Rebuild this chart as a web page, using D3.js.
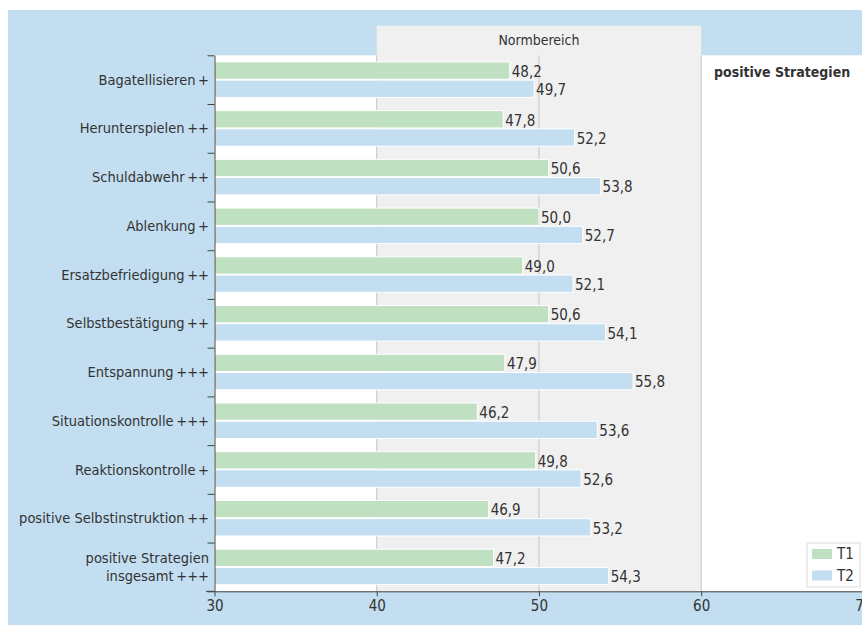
<!DOCTYPE html>
<html>
<head>
<meta charset="utf-8">
<script src="https://cdn.jsdelivr.net/npm/d3@7"></script>
<style>
  body { margin: 0; background: #fff; }
  text { font-family: "Liberation Sans Narrow", "DejaVu Sans Condensed", sans-serif; fill: #333; }
  .axis path, .axis line { stroke: #444; }
  .axis text { font-size: 15px; fill: #333; font-family: "Liberation Sans Narrow", "DejaVu Sans Condensed", sans-serif; }
</style>
</head>
<body>
<div id="chart"></div>
<script>
// data
var categories = [
    "Bagatellisieren\u2009+",
    "Herunterspielen\u2009++",
    "Schuldabwehr\u2009++",
    "Ablenkung\u2009+",
    "Ersatzbefriedigung\u2009++",
    "Selbstbestätigung\u2009++",
    "Entspannung\u2009+++",
    "Situationskontrolle\u2009+++",
    "Reaktionskontrolle\u2009+",
    "positive Selbstinstruktion\u2009++",
    "positive Strategien|insgesamt\u2009+++"
];
var t1 = [48.2, 47.8, 50.6, 50.0, 49.0, 50.6, 47.9, 46.2, 49.8, 46.9, 47.2];
var t2 = [49.7, 52.2, 53.8, 52.7, 52.1, 54.1, 55.8, 53.6, 52.6, 53.2, 54.3];
var seriesNames = ["T1", "T2"];
var xTicks = [30, 40, 50, 60, 70];
var normRange = [40, 60];
var gridValues = [40, 50, 60];

var width = 862;
var height = 625;
var plotTop = 55.3;
var plotBottom = 591.3;
var plotLeft = 214.5;

var svg = d3.select("#chart")
    .append("svg")
    .attr("width", width)
    .attr("height", height);

var color = d3.scaleOrdinal(seriesNames, ["#bfe0c1", "#c2def0"]);

// scales
var x = d3.scaleLinear()
    .domain([30, 70])
    .range([plotLeft, 863.4]);

var y0 = d3.scaleBand()
    .domain(categories)
    .range([plotTop, plotBottom]);

var y1 = d3.scaleBand()
    .domain(seriesNames)
    .range([6.6, y0.bandwidth() - 6.6])
    .paddingInner(0.05);

var yIdx = d3.scaleLinear()
    .domain([0, categories.length])
    .range([plotTop, plotBottom]);

// background
svg.append("rect")
    .attr("x", 8)
    .attr("y", 10)
    .attr("width", width - 8)
    .attr("height", height - 10)
    .style("fill", "#c2def0");

// plot area
svg.append("rect")
    .attr("x", plotLeft)
    .attr("y", plotTop)
    .attr("width", width - plotLeft)
    .attr("height", plotBottom - plotTop)
    .style("fill", "#fff");

// Normbereich band
svg.append("rect")
    .attr("x", x(normRange[0]))
    .attr("y", 25.7)
    .attr("width", x(normRange[1]) - x(normRange[0]))
    .attr("height", plotBottom - 25.7)
    .style("fill", "#f0f0f0");

svg.append("text")
    .attr("x", x(50))
    .attr("y", 45)
    .attr("text-anchor", "middle")
    .style("font-size", "14px")
    .text("Normbereich");

// grid
svg.append("g")
    .selectAll("line")
    .data(gridValues)
    .join("line")
    .attr("x1", d => x(d))
    .attr("x2", d => x(d))
    .attr("y1", plotTop)
    .attr("y2", plotBottom)
    .style("stroke", "#c4c4c4")
    .style("stroke-width", 1);

// bars
var rows = categories.map(function (c, i) {
    return { cat: c, values: [{ key: "T1", v: t1[i] }, { key: "T2", v: t2[i] }] };
});

var group = svg.append("g")
    .selectAll("g")
    .data(rows)
    .join("g")
    .attr("transform", d => "translate(0," + y0(d.cat) + ")");

group.selectAll("rect")
    .data(d => d.values)
    .join("rect")
    .attr("x", x(30))
    .attr("y", d => y1(d.key))
    .attr("width", d => x(d.v) - x(30))
    .attr("height", y1.bandwidth())
    .style("fill", d => color(d.key))
    .style("stroke", "#fff")
    .style("stroke-width", 1);

group.selectAll("text.val")
    .data(d => d.values)
    .join("text")
    .attr("class", "val")
    .attr("x", d => x(d.v) + 2)
    .attr("y", d => y1(d.key) + y1.bandwidth() / 2 + 1)
    .attr("dy", "0.35em")
    .style("font-size", "15px")
    .text(d => d.v.toFixed(1).replace(".", ","));

// category labels
var labels = svg.append("g")
    .selectAll("text")
    .data(categories)
    .join("text")
    .attr("x", 209)
    .attr("y", d => y0(d) + y0.bandwidth() / 2)
    .attr("text-anchor", "end")
    .style("font-size", "14.5px");

labels.each(function (d) {
    var parts = d.split("|");
    var t = d3.select(this);
    parts.forEach(function (p, i) {
        t.append("tspan")
            .attr("x", 209)
            .attr("dy", parts.length === 1 ? "0.35em" : (i === 0 ? "-0.3em" : "1.3em"))
            .text(p);
    });
});

// left axis (ticks at band boundaries)
svg.append("g")
    .attr("class", "axis")
    .attr("transform", "translate(" + plotLeft + ",0)")
    .call(d3.axisLeft(yIdx).tickValues(d3.range(categories.length + 1)).tickFormat("").tickSize(7).tickSizeOuter(0));

// bottom axis
var xAxis = svg.append("g")
    .attr("class", "axis")
    .attr("transform", "translate(0," + plotBottom + ")")
    .call(d3.axisBottom(x).tickValues(xTicks).tickSize(5).tickSizeOuter(0).tickPadding(4));

xAxis.append("line")
    .attr("x1", 206)
    .attr("x2", plotLeft)
    .style("stroke", "#444");

// panel title
svg.append("text")
    .attr("x", 714)
    .attr("y", 77)
    .style("font-size", "14px")
    .style("font-weight", "bold")
    .text("positive Strategien");

// legend
var legend = svg.append("g")
    .attr("transform", "translate(807,543)");

legend.append("rect")
    .attr("width", 53)
    .attr("height", 44)
    .style("fill", "#fff")
    .style("stroke", "#dcdcdc");

var li = legend.selectAll("g")
    .data(seriesNames)
    .join("g")
    .attr("transform", (d, i) => "translate(5," + (6 + i * 21.5) + ")");

li.append("rect")
    .attr("width", 20)
    .attr("height", 10)
    .style("fill", d => color(d));

li.append("text")
    .attr("x", 25)
    .attr("y", 5)
    .attr("dy", "0.35em")
    .style("font-size", "15px")
    .text(d => d);
</script>
</body>
</html>
